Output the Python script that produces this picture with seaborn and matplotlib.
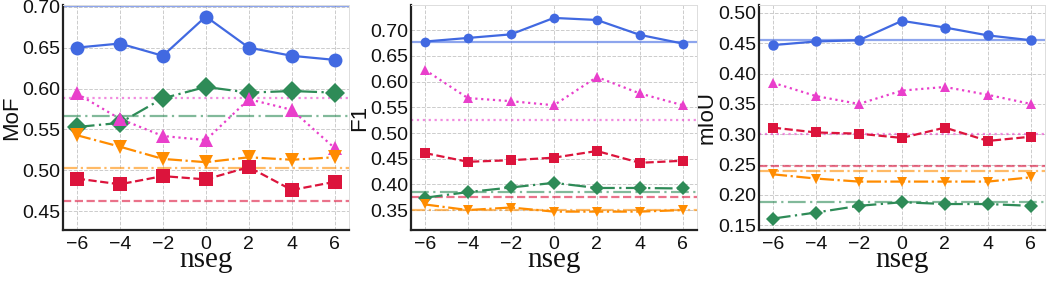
import numpy as np
import pandas as pd
import matplotlib
matplotlib.use("Agg")
import matplotlib.pyplot as plt
import seaborn as sns

# x 軸
nseg = [-6, -4, -2, 0, 2, 4, 6]

# MoF
mof_blue = [0.650, 0.655, 0.640, 0.688, 0.650, 0.640, 0.635]
mof_green = [0.553, 0.558, 0.588, 0.602, 0.595, 0.597, 0.595]
mof_magenta = [0.594, 0.563, 0.542, 0.537, 0.587, 0.574, 0.527]
mof_orange = [0.543, 0.529, 0.514, 0.510, 0.516, 0.513, 0.516]
mof_red = [0.490, 0.483, 0.493, 0.489, 0.504, 0.476, 0.486]
mof_base = [0.701, 0.567, 0.588, 0.503, 0.462]

# F1
f1_blue = [0.678, 0.685, 0.692, 0.724, 0.720, 0.691, 0.674]
f1_green = [0.374, 0.385, 0.394, 0.403, 0.393, 0.393, 0.392]
f1_magenta = [0.623, 0.568, 0.562, 0.554, 0.609, 0.577, 0.554]
f1_orange = [0.361, 0.350, 0.355, 0.347, 0.347, 0.347, 0.350]
f1_red = [0.461, 0.444, 0.447, 0.452, 0.465, 0.442, 0.446]
f1_base = [0.678, 0.385, 0.525, 0.350, 0.376]

# mIoU
miou_blue = [0.447, 0.453, 0.455, 0.487, 0.476, 0.463, 0.455]
miou_green = [0.161, 0.171, 0.182, 0.188, 0.185, 0.185, 0.182]
miou_magenta = [0.385, 0.363, 0.350, 0.372, 0.378, 0.365, 0.350]
miou_orange = [0.234, 0.227, 0.222, 0.222, 0.222, 0.222, 0.229]
miou_red = [0.311, 0.303, 0.301, 0.294, 0.311, 0.289, 0.296]
miou_base = [0.455, 0.188, 0.300, 0.240, 0.247]

series_names = ['blue', 'green', 'magenta', 'orange', 'red']
colors = ['#4169e1', '#2e8b57', '#e93fcb', '#ff8c00', '#dc143c']
markers = ['o', 'D', '^', 'v', 's']
styles = ['-', (0, (8, 2, 1, 2)), ':', '-.', '--']

panels = [
    ('MoF', [mof_blue, mof_green, mof_magenta, mof_orange, mof_red], mof_base,
     (0.427, 0.702), [0.45, 0.50, 0.55, 0.60, 0.65, 0.70], 10),
    ('F1', [f1_blue, f1_green, f1_magenta, f1_orange, f1_red], f1_base,
     (0.311, 0.749), [0.35, 0.40, 0.45, 0.50, 0.55, 0.60, 0.65, 0.70], 7),
    ('mIoU', [miou_blue, miou_green, miou_magenta, miou_orange, miou_red], miou_base,
     (0.142, 0.513), [0.15, 0.20, 0.25, 0.30, 0.35, 0.40, 0.45, 0.50], 7.5),
]

sns.set_style("white")
plt.rcParams['font.family'] = ['Liberation Sans', 'DejaVu Sans']

fig, axes = plt.subplots(1, 3, figsize=(10.47, 2.82), dpi=100)
plt.subplots_adjust(left=0.060, right=0.998, bottom=0.184, top=0.982, wspace=0.217)

for ax, (ylab, ys, base, ylim, yticks, ms) in zip(axes, panels):
    # 基準線（水平）
    for b, c, st in zip(base, colors, styles):
        ax.axhline(b, color=c, linestyle=st, linewidth=1.6, alpha=0.6, zorder=1)
    for y, name, c, m, st in zip(ys, series_names, colors, markers, styles):
        df = pd.DataFrame({'nseg': nseg, 'val': y})
        sns.lineplot(data=df, x='nseg', y='val', ax=ax, color=c, marker=m,
                     markersize=ms, markeredgewidth=0, linewidth=1.6, zorder=3)
        ax.lines[-1].set_linestyle(st)
    ax.set_xlim(-6.65, 6.65)
    ax.set_ylim(*ylim)
    ax.set_xticks(nseg)
    ax.set_yticks(yticks)
    ax.set_yticklabels([f'{t:.2f}' for t in yticks])
    ax.grid(True, linestyle='--', color='#cccccc', linewidth=0.7)
    ax.set_xlabel('nseg', family='Liberation Serif', fontsize=21, labelpad=-4,
                  color='#111111')
    ax.set_ylabel(ylab, fontsize=16, labelpad=0, color='#111111')
    ax.tick_params(axis='both', labelsize=14, direction='in', length=3, pad=2,
                   labelcolor='#111111')
    ax.tick_params(axis='x', pad=4)
    for s in ['left', 'bottom']:
        ax.spines[s].set_color('#222222')
        ax.spines[s].set_linewidth(1.6)
    for s in ['top', 'right']:
        ax.spines[s].set_color('#dddddd')
        ax.spines[s].set_linewidth(0.7)

plt.savefig('out.png', dpi=100)
